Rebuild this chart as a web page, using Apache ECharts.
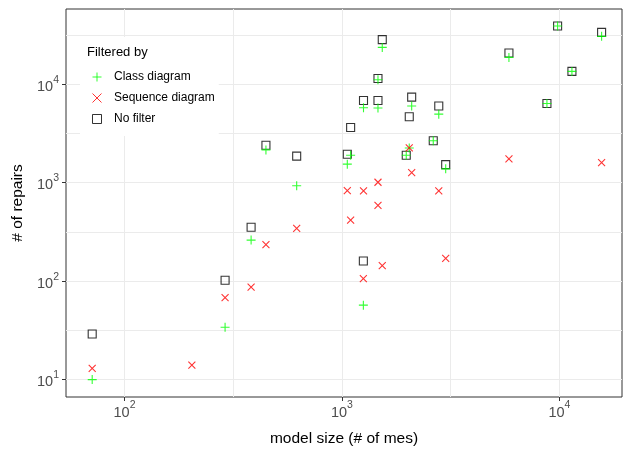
<!DOCTYPE html>
<html>
<head>
<meta charset="utf-8">
<script src="https://cdn.jsdelivr.net/npm/echarts@6/dist/echarts.min.js"></script>
<style>
  html, body { margin: 0; padding: 0; background: #fff; }
  #chart { width: 623px; height: 451px; }
</style>
</head>
<body>
<div id="chart"></div>
<script>
// Model size (number of model elements) for each model
const modelSize = [71, 204, 290, 382, 447, 619, 1058, 1096, 1256, 1254, 1464, 1464, 1532,
  1975, 2039, 2092, 2629, 2787, 2999, 5859, 8761, 9810, 11416, 15631];
// Number of repairs per filter (null = no value for that model)
const classRepairs = [10, null, 34, 261, 2150, 930, 1540, 1900, 5750, 57, 5720, 11100, 23600,
  1900, 2250, 5990, 2660, 4960, 1380, 18700, 6370, 39000, 13470, 30560];
const sequenceRepairs = [13, 14, 68, 87, 235, 344, 829, 417, 823, 106, 1009, 589, 144,
  null, 2250, 1264, null, 823, 170, 1742, null, null, null, 1598];
const noFilterRepairs = [29, null, 102, 352, 2400, 1860, 1945, 3630, 6830, 160, 6830, 11400, 28300,
  1900, 4660, 7390, 2660, 5990, 1525, 20700, 6370, 39000, 13470, 33570];

// Major breaks (labelled) and minor breaks (half decades)
const xTicks = [100, 1000, 10000];
const yTicks = [10, 100, 1000, 10000];
const xMinor = [316.23, 3162.3];
const yMinor = [31.623, 316.23, 3162.3, 31623];

const X_RANGE = [53.8, 19400];
const Y_RANGE = [6.66, 57950];

const FONT = '"Liberation Sans", Arial, Helvetica, sans-serif';
const GRID_COLOR = '#ebebeb';

function pairs(ys) {
  const out = [];
  ys.forEach((y, i) => { if (y != null) out.push([modelSize[i], y]); });
  return out;
}

function powLabel(v) {
  return '{b|10}{s|' + Math.round(Math.log10(v)) + '}';
}

const labelRich = {
  b: { fontSize: 14.5, color: '#4d4d4d', fontFamily: FONT, lineHeight: 20, verticalAlign: 'bottom' },
  s: { fontSize: 10.5, color: '#4d4d4d', fontFamily: FONT, lineHeight: 10, verticalAlign: 'top' }
};

const PLUS = 'path://M0,5L10,5M5,0L5,10';
const CROSS = 'path://M0,0L10,10M10,0L0,10';
const SQUARE = 'path://M0,0L10,0L10,10L0,10Z';

// Hidden axis carrying only the minor grid lines
function minorAxis(range, values) {
  return {
    type: 'log', logBase: 10, min: range[0], max: range[1],
    axisLine: { show: false },
    axisTick: { show: false, customValues: values },
    axisLabel: { show: false, customValues: values },
    splitLine: { show: true, lineStyle: { color: GRID_COLOR, width: 1 } }
  };
}

const chart = echarts.init(document.getElementById('chart'), null, { renderer: 'canvas' });

chart.setOption({
  animation: false,
  backgroundColor: '#ffffff',
  grid: {
    left: 66, right: 1, top: 9, bottom: 54,
    outerBoundsMode: 'none', containLabel: false,
    show: true, borderColor: '#333333', borderWidth: 1, backgroundColor: 'transparent'
  },
  xAxis: [{
    type: 'log', logBase: 10, min: X_RANGE[0], max: X_RANGE[1],
    name: 'model size (# of mes)', nameLocation: 'middle', nameGap: 34,
    nameTextStyle: { fontSize: 15.5, color: '#000', fontFamily: FONT },
    axisLine: { show: false },
    axisTick: { show: true, length: 4, lineStyle: { color: '#333333' }, customValues: xTicks },
    axisLabel: { margin: 3, formatter: powLabel, rich: labelRich, customValues: xTicks },
    splitLine: { show: true, lineStyle: { color: GRID_COLOR, width: 1 } }
  }, minorAxis(X_RANGE, xMinor)],
  yAxis: [{
    type: 'log', logBase: 10, min: Y_RANGE[0], max: Y_RANGE[1],
    name: '# of repairs', nameLocation: 'middle', nameGap: 39,
    nameTextStyle: { fontSize: 15.5, color: '#000', fontFamily: FONT },
    axisLine: { show: false },
    axisTick: { show: true, length: 4, lineStyle: { color: '#333333' }, customValues: yTicks },
    axisLabel: { margin: 7, formatter: powLabel, rich: labelRich, customValues: yTicks },
    splitLine: { show: true, lineStyle: { color: GRID_COLOR, width: 1 } }
  }, minorAxis(Y_RANGE, yMinor)],
  legend: {
    orient: 'vertical', left: 80, top: 37,
    backgroundColor: '#ffffff',
    padding: [33, 4, 10, 12],
    itemWidth: 24, itemHeight: 9, itemGap: 7,
    textStyle: { fontSize: 12, color: '#000', fontFamily: FONT, lineHeight: 14 },
    data: [
      { name: 'Class diagram', icon: PLUS,
        itemStyle: { color: 'transparent', borderColor: '#00ff00', borderWidth: 1 } },
      { name: 'Sequence diagram', icon: CROSS,
        itemStyle: { color: 'transparent', borderColor: '#ff0000', borderWidth: 1 } },
      { name: 'No filter', icon: SQUARE,
        itemStyle: { color: 'transparent', borderColor: '#000000', borderWidth: 1 } }
    ],
    selectedMode: false
  },
  graphic: [{
    type: 'text', left: 87, top: 46, z: 100,
    style: { text: 'Filtered by', fontSize: 13, fill: '#000', fontFamily: FONT }
  }],
  series: [
    {
      name: 'No filter', type: 'scatter', symbol: SQUARE, symbolSize: 8,
      itemStyle: { color: 'transparent', borderColor: '#000000', borderWidth: 1.1 },
      data: pairs(noFilterRepairs), z: 2
    },
    {
      name: 'Class diagram', type: 'scatter', symbol: PLUS, symbolSize: 9,
      itemStyle: { color: 'transparent', borderColor: '#00ff00', borderWidth: 1.1 },
      data: pairs(classRepairs), z: 3
    },
    {
      name: 'Sequence diagram', type: 'scatter', symbol: CROSS, symbolSize: 7,
      itemStyle: { color: 'transparent', borderColor: '#ff0000', borderWidth: 1.1 },
      data: pairs(sequenceRepairs), z: 4
    }
  ]
});
</script>
</body>
</html>
